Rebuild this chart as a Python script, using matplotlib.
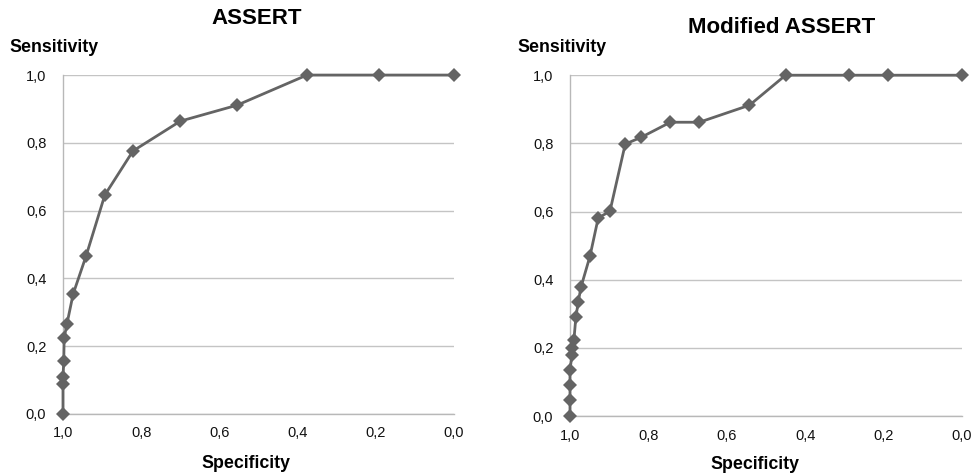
import matplotlib.pyplot as plt
from matplotlib.ticker import FuncFormatter

plt.rcParams['font.family'] = ['Liberation Sans', 'DejaVu Sans']

# ASSERT ROC points (specificity, sensitivity)
assert_spec = [1.0, 1.0, 1.0, 0.998, 0.997, 0.99, 0.974, 0.941, 0.893, 0.821,
               0.70, 0.555, 0.376, 0.192, 0.0]
assert_sens = [0.0, 0.088, 0.109, 0.156, 0.224, 0.265, 0.354, 0.466, 0.646,
               0.776, 0.864, 0.911, 1.0, 1.0, 1.0]

# Modified ASSERT ROC points
mod_spec = [1.0, 1.0, 1.0, 1.0, 0.995, 0.994, 0.99, 0.985, 0.979, 0.972,
            0.949, 0.928, 0.898, 0.859, 0.818, 0.744, 0.670, 0.542, 0.45,
            0.289, 0.189, 0.0]
mod_sens = [0.0, 0.047, 0.091, 0.135, 0.179, 0.20, 0.223, 0.29, 0.334, 0.378,
            0.469, 0.581, 0.601, 0.798, 0.818, 0.862, 0.862, 0.912, 1.0,
            1.0, 1.0, 1.0]

titles = ['ASSERT', 'Modified ASSERT']
ticks = [0.0, 0.2, 0.4, 0.6, 0.8, 1.0]

fig = plt.figure(figsize=(9.75, 4.76), dpi=100)
ax1 = fig.add_axes([0.0646, 0.1303, 0.401, 0.712])
ax2 = fig.add_axes([0.5846, 0.126, 0.402, 0.716])

comma = FuncFormatter(lambda v, p: f'{v:.1f}'.replace('.', ','))

for ax, xs, ys in [(ax1, assert_spec, assert_sens), (ax2, mod_spec, mod_sens)]:
    ax.plot(xs, ys, color='#646464', lw=2.0, marker='D', ms=7.2,
            markeredgewidth=0, zorder=3, clip_on=False)
    ax.set_xlim(1.0, 0.0)
    ax.set_ylim(0.0, 1.0)
    ax.set_xticks(ticks)
    ax.set_yticks(ticks)
    ax.xaxis.set_major_formatter(comma)
    ax.yaxis.set_major_formatter(comma)
    ax.tick_params(length=0, labelsize=10.5, pad=12, labelcolor='#111111')
    ax.tick_params(axis='x', pad=9)
    ax.grid(axis='y', color='#c4c4c4', lw=1.0)
    for s in ['top', 'right']:
        ax.spines[s].set_visible(False)
    for s in ['left', 'bottom']:
        ax.spines[s].set_color('#b8b8b8')
        ax.spines[s].set_linewidth(1.0)

fig.text(0.263, 0.962, titles[0], ha='center', va='center', fontsize=16, fontweight='bold')
fig.text(0.802, 0.943, titles[1], ha='center', va='center', fontsize=16, fontweight='bold')
fig.text(0.010, 0.901, 'Sensitivity', ha='left', va='center', fontsize=12.8, fontweight='bold')
fig.text(0.531, 0.901, 'Sensitivity', ha='left', va='center', fontsize=12.8, fontweight='bold')
fig.text(0.252, 0.027, 'Specificity', ha='center', va='center', fontsize=12.8, fontweight='bold')
fig.text(0.774, 0.025, 'Specificity', ha='center', va='center', fontsize=12.8, fontweight='bold')

fig.savefig('out.png', dpi=100)
